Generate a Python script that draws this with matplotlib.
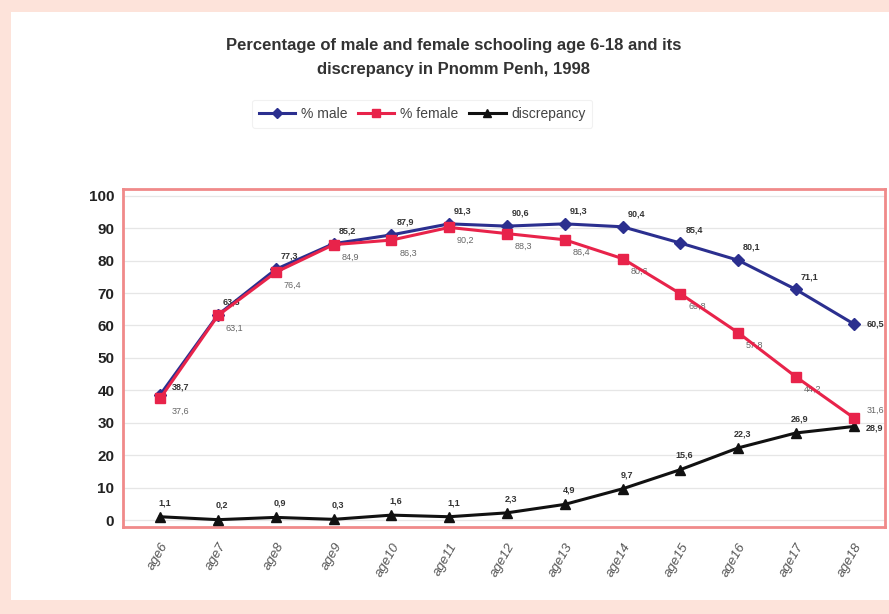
import numpy as np
import matplotlib
matplotlib.use("Agg")
import matplotlib.pyplot as plt
from matplotlib.patches import Rectangle

plt.rcParams["font.family"] = ["Liberation Sans", "DejaVu Sans"]

# 데이터
ages = ["age6", "age7", "age8", "age9", "age10", "age11", "age12",
        "age13", "age14", "age15", "age16", "age17", "age18"]
male = [38.7, 63.3, 77.3, 85.2, 87.9, 91.3, 90.6, 91.3, 90.4, 85.4, 80.1, 71.1, 60.5]
female = [37.6, 63.1, 76.4, 84.9, 86.3, 90.2, 88.3, 86.4, 80.6, 69.8, 57.8, 44.2, 31.6]
discrepancy = [1.1, 0.2, 0.9, 0.3, 1.6, 1.1, 2.3, 4.9, 9.7, 15.6, 22.3, 26.9, 28.9]


def fmt(v):
    return f"{v:.1f}".replace(".", ",")


fig = plt.figure(figsize=(8.89, 6.14), dpi=100)
fig.patch.set_facecolor("#fde3da")
# 흰색 안쪽 패널
fig.add_artist(Rectangle((0.012, 0.022), 0.988, 0.958, transform=fig.transFigure,
                         facecolor="white", edgecolor="none", zorder=0))

ax = fig.add_axes([0.138, 0.142, 0.858, 0.55])
x = np.arange(len(ages))
ax.plot(x, male, color="#2b2f8f", lw=2.2, marker="D", ms=6.5, label="% male", zorder=3)
ax.plot(x, female, color="#e8234a", lw=2.2, marker="s", ms=7.5, label="% female", zorder=4)
ax.plot(x, discrepancy, color="#111111", lw=2.2, marker="^", ms=7, label="discrepancy", zorder=3)

n = len(ages)
for i in range(n):
    # 라벨 위치: 양 끝 점은 오른쪽에
    if i == 0:
        m_off, m_ha, m_va = (8, 2), "left", "bottom"
        f_off, f_ha, f_va = (8, -6), "left", "top"
    elif i == n - 1:
        m_off, m_ha, m_va = (9, 0), "left", "center"
        f_off, f_ha, f_va = (9, 2), "left", "bottom"
    else:
        m_off, m_ha, m_va = (10, 6), "center", "bottom"
        f_off, f_ha, f_va = (12, -6), "center", "top"
    ax.annotate(fmt(male[i]), (x[i], male[i]), xytext=m_off, textcoords="offset points",
                fontsize=6.5, fontweight="bold", color="#333333", ha=m_ha, va=m_va)
    ax.annotate(fmt(female[i]), (x[i], female[i]), xytext=f_off, textcoords="offset points",
                fontsize=6.5, color="#666666", ha=f_ha, va=f_va)
    if i == n - 1:
        ax.annotate(fmt(discrepancy[i]), (x[i], discrepancy[i]), xytext=(9, -1),
                    textcoords="offset points", fontsize=6.5, fontweight="bold",
                    color="#333333", ha="left", va="center")
    else:
        ax.annotate(fmt(discrepancy[i]), (x[i], discrepancy[i]), xytext=(3, 7),
                    textcoords="offset points", fontsize=6.5, fontweight="bold",
                    color="#333333", ha="center", va="bottom")

ax.set_xlim(-0.65, n - 0.45)
ax.set_ylim(-2, 102)
ax.set_yticks(np.arange(0, 101, 10))
ax.set_xticks(x)
ax.set_xticklabels(ages, rotation=60, ha="right", rotation_mode="anchor",
                   fontsize=9.5, color="#555555", style="italic")
for lab in ax.get_yticklabels():
    lab.set_fontweight("bold")
    lab.set_fontsize(11)
    lab.set_color("#222222")
ax.tick_params(axis="y", length=0, pad=6)
ax.tick_params(axis="x", length=0, pad=10)
ax.grid(axis="y", color="#e6e6e6", lw=0.9)
ax.set_axisbelow(True)
for s in ax.spines.values():
    s.set_color("#f08a8a")
    s.set_linewidth(2)

fig.text(0.51, 0.907, "Percentage of male and female schooling age 6-18 and its\n"
         "discrepancy in Pnomm Penh, 1998", ha="center", va="center",
         fontsize=12, fontweight="bold", color="#333333", linespacing=1.75)
leg = fig.legend(loc="center", bbox_to_anchor=(0.475, 0.815), ncol=3, frameon=True,
                 fontsize=10, handlelength=2.6, columnspacing=0.8, handletextpad=0.4,
                 borderpad=0.5, markerscale=0.85)
leg.get_frame().set_edgecolor("#eeeeee")
leg.get_frame().set_linewidth(0.8)
for t in leg.get_texts():
    t.set_color("#444444")

fig.savefig("out.png", dpi=100, facecolor=fig.get_facecolor())
